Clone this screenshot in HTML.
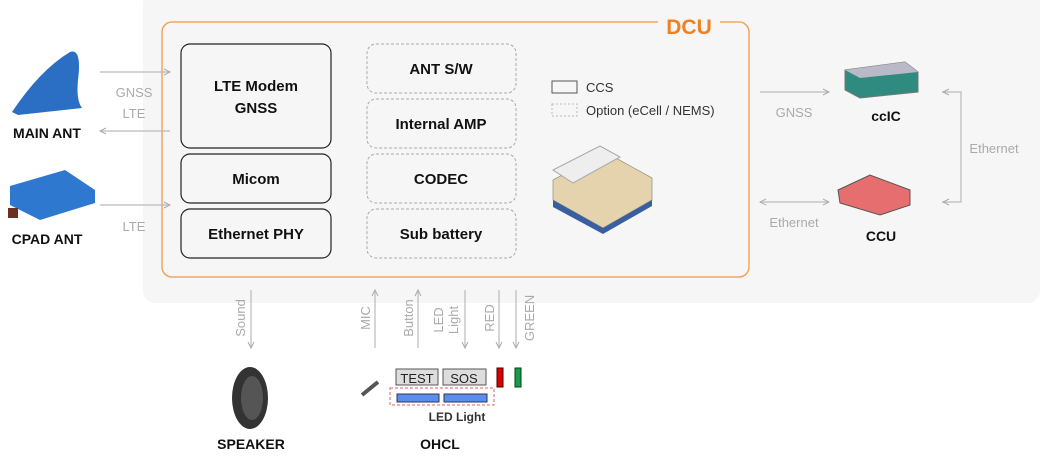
<!DOCTYPE html>
<html><head><meta charset="utf-8"><style>
body{margin:0;width:1044px;height:451px;background:#fff;overflow:hidden;font-family:"Liberation Sans",sans-serif}
</style></head><body>
<svg width="1044" height="451" viewBox="0 0 1044 451" xmlns="http://www.w3.org/2000/svg" font-family="Liberation Sans, sans-serif">
<defs>
<marker id="a" markerWidth="8" markerHeight="8" refX="7" refY="4" orient="auto" markerUnits="userSpaceOnUse"><path d="M1,1 L7,4 L1,7" fill="none" stroke="#aaa" stroke-width="1"/></marker>
<marker id="b" markerWidth="8" markerHeight="8" refX="1" refY="4" orient="auto" markerUnits="userSpaceOnUse"><path d="M7,1 L1,4 L7,7" fill="none" stroke="#aaa" stroke-width="1"/></marker>
</defs>
<rect x="143" y="-10" width="897" height="313" rx="12" fill="#f6f6f6"/>
<rect x="162" y="22" width="587" height="255" rx="10" fill="none" stroke="#f0a560" stroke-width="1.5"/>
<rect x="658" y="14" width="62" height="20" fill="#f6f6f6"/>
<text x="689" y="34" text-anchor="middle" font-size="21" font-weight="bold" fill="#f08020">DCU</text>
<g fill="none" stroke="#222" stroke-width="1.2">
<rect x="181" y="44" width="150" height="104" rx="9"/>
<rect x="181" y="154" width="150" height="49" rx="9"/>
<rect x="181" y="209" width="150" height="49" rx="9"/>
</g>
<g fill="none" stroke="#aaa" stroke-width="1" stroke-dasharray="3,2">
<rect x="367" y="44" width="149" height="49" rx="9"/>
<rect x="367" y="99" width="149" height="49" rx="9"/>
<rect x="367" y="154" width="149" height="49" rx="9"/>
<rect x="367" y="209" width="149" height="49" rx="9"/>
</g>
<g font-size="15" font-weight="bold" fill="#111" text-anchor="middle">
<text x="256" y="91">LTE Modem</text><text x="256" y="113">GNSS</text>
<text x="256" y="184">Micom</text><text x="256" y="239">Ethernet PHY</text>
<text x="441" y="74">ANT S/W</text><text x="441" y="129">Internal AMP</text>
<text x="441" y="184">CODEC</text><text x="441" y="239">Sub battery</text>
</g>
<rect x="552" y="81" width="25" height="12" fill="none" stroke="#555"/>
<rect x="552" y="104" width="25" height="12" fill="none" stroke="#bbb" stroke-dasharray="2,2"/>
<text x="586" y="92" font-size="13" fill="#333">CCS</text>
<text x="586" y="115" font-size="13" fill="#333">Option (eCell / NEMS)</text>
<!-- DCU module image -->
<polygon points="553,180 605,152 652,178 652,200 603,228 553,200" fill="#e4d3ad" stroke="#998" stroke-width="0.8"/>
<polygon points="553,170 600,146 620,157 573,183" fill="#eee" stroke="#aaa"/>
<polygon points="553,200 603,228 603,234 553,207" fill="#3a5fa0"/>
<polygon points="603,228 652,200 652,206 603,234" fill="#3a5fa0"/>
<!-- arrows -->
<g stroke="#bbb" stroke-width="1.2" fill="none">
<line x1="100" y1="72" x2="170" y2="72" marker-end="url(#a)"/>
<line x1="170" y1="131" x2="100" y2="131" marker-end="url(#a)"/>
<line x1="100" y1="205" x2="170" y2="205" marker-end="url(#a)"/>
<line x1="760" y1="92" x2="829" y2="92" marker-end="url(#a)"/>
<line x1="760" y1="202" x2="829" y2="202" marker-end="url(#a)" marker-start="url(#b)"/>
<polyline points="942,92 961,92 961,202 942,202"/>
<line x1="943" y1="92" x2="945" y2="92" marker-start="url(#b)"/>
<line x1="943" y1="202" x2="945" y2="202" marker-start="url(#b)"/>
<line x1="251" y1="290" x2="251" y2="348" marker-end="url(#a)"/>
<line x1="375" y1="348" x2="375" y2="290" marker-end="url(#a)"/>
<line x1="418" y1="348" x2="418" y2="290" marker-end="url(#a)"/>
<line x1="465" y1="290" x2="465" y2="348" marker-end="url(#a)"/>
<line x1="499" y1="290" x2="499" y2="348" marker-end="url(#a)"/>
<line x1="516" y1="290" x2="516" y2="348" marker-end="url(#a)"/>
</g>
<g font-size="13" fill="#aaa" text-anchor="middle">
<text x="134" y="97">GNSS</text><text x="134" y="118">LTE</text><text x="134" y="231">LTE</text>
<text x="794" y="117">GNSS</text><text x="794" y="227">Ethernet</text><text x="994" y="153">Ethernet</text>
<text transform="translate(245,318) rotate(-90)">Sound</text>
<text transform="translate(370,318) rotate(-90)">MIC</text>
<text transform="translate(413,318) rotate(-90)">Button</text>
<text transform="translate(443,320) rotate(-90)">LED</text>
<text transform="translate(458,320) rotate(-90)">Light</text>
<text transform="translate(494,318) rotate(-90)">RED</text>
<text transform="translate(534,318) rotate(-90)">GREEN</text>
</g>
<!-- ant images -->
<path d="M12,112 Q40,70 70,52 Q82,48 78,80 Q76,100 82,108 L18,115 Z" fill="#2a6fc4"/>
<polygon points="10,186 65,170 95,190 95,203 40,220 10,205" fill="#2f78d0"/>
<rect x="8" y="208" width="10" height="10" fill="#6a3020"/>
<g font-size="14" font-weight="bold" fill="#111" text-anchor="middle">
<text x="47" y="138">MAIN ANT</text><text x="47" y="244">CPAD ANT</text>
<text x="886" y="121">ccIC</text><text x="881" y="241">CCU</text>
<text x="251" y="449">SPEAKER</text><text x="440" y="449">OHCL</text>
</g>
<!-- ccIC / CCU -->
<polygon points="845,70 905,62 918,72 918,92 860,98 845,90" fill="#2f8a80" stroke="#777"/>
<polygon points="845,70 905,62 918,72 860,78" fill="#b9b9c8"/>
<polygon points="838,190 870,175 910,190 910,205 880,215 840,203" fill="#e66e6e" stroke="#555"/>
<!-- speaker -->
<ellipse cx="250" cy="398" rx="18" ry="31" fill="#333"/>
<ellipse cx="252" cy="398" rx="11" ry="22" fill="#555"/>
<!-- mic -->
<line x1="362" y1="395" x2="378" y2="382" stroke="#555" stroke-width="4"/>
<!-- OHCL buttons -->
<rect x="396" y="369" width="42" height="16" fill="#ddd" stroke="#555"/>
<rect x="443" y="369" width="43" height="16" fill="#ddd" stroke="#555"/>
<text x="417" y="383" font-size="13" text-anchor="middle" fill="#222">TEST</text>
<text x="464" y="383" font-size="13" text-anchor="middle" fill="#222">SOS</text>
<rect x="497" y="368" width="6" height="19" fill="#d00" stroke="#400"/>
<rect x="515" y="368" width="6" height="19" fill="#1a9a50" stroke="#040"/>
<rect x="390" y="388" width="104" height="17" fill="none" stroke="#e06060" stroke-dasharray="3,2"/>
<rect x="397" y="394" width="42" height="8" fill="#5b8def" stroke="#335"/>
<rect x="444" y="394" width="43" height="8" fill="#5b8def" stroke="#335"/>
<text x="457" y="421" font-size="12" font-weight="bold" text-anchor="middle" fill="#333">LED Light</text>
</svg>
</body></html>
